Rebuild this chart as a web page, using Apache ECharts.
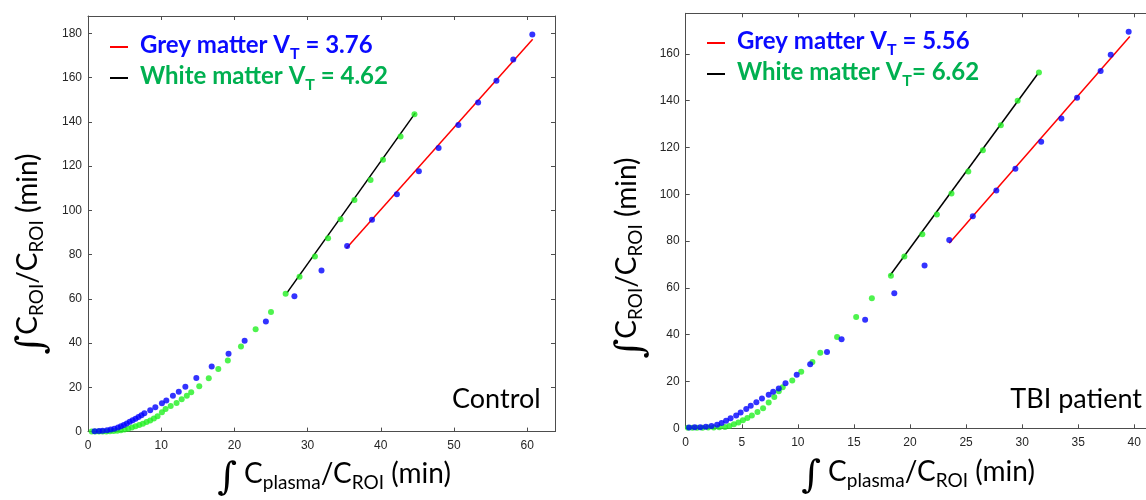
<!DOCTYPE html>
<html>
<head>
<meta charset="utf-8">
<script src="https://cdn.jsdelivr.net/npm/echarts@6/dist/echarts.min.js"></script>
<style>
  html, body { margin: 0; padding: 0; background: #fff; }
  #chart { width: 1146px; height: 500px; }
</style>
</head>
<body>
<div id="chart"></div>
<script>
// Control: grey matter (blue) and white matter (green) points
var ctrlGreyX = [0.9,1.5,2.0,2.6,3.1,3.6,4.1,4.5,4.9,5.3,5.7,6.1,6.5,6.9,7.3,7.7,8.5,9.2,10.1,10.7,11.6,12.4,13.3,14.8,16.9,19.2,21.4,24.3,28.2,31.9,35.4,38.8,42.2,45.2,47.9,50.6,53.3,55.8,58.1,60.7];
var ctrlGreyY = [0.2,0.3,0.4,0.6,0.9,1.3,1.8,2.4,3.0,3.7,4.4,5.1,5.8,6.6,7.4,8.3,9.6,11.0,12.8,14.0,16.2,18.0,20.3,24.2,29.4,35.2,41.1,49.7,61.2,72.8,83.9,95.7,107.3,117.7,128.1,138.6,148.7,158.5,168.1,179.4];
var ctrlWhiteX = [0.5,1.0,1.5,2.0,2.5,3.0,3.5,4.0,4.5,5.0,5.5,6.0,6.5,7.0,7.5,8.0,8.5,9.0,9.5,10.1,10.6,11.3,12.1,12.8,13.5,14.1,15.2,16.5,17.8,19.1,20.9,22.9,25.0,27.0,28.9,31.0,32.8,34.5,36.4,38.6,40.3,42.7,44.6];
var ctrlWhiteY = [0,0,0,0.1,0.1,0.2,0.3,0.4,0.6,0.9,1.3,1.8,2.4,3.0,3.6,4.3,5.0,5.9,6.9,8.7,10.2,11.6,12.9,14.6,16.2,17.8,20.5,24.1,28.3,32.1,38.4,46.2,54.1,62.3,70.0,79.1,87.4,96.0,104.7,113.7,122.8,133.3,143.4];
// Control: fitted lines (end points)
var ctrlGreyFitX = [35.3, 60.75];
var ctrlGreyFitY = [82.9, 177.3];
var ctrlWhiteFitX = [27.2, 44.7];
var ctrlWhiteFitY = [62.8, 143.9];

// TBI patient
var tbiGreyX = [0.3,0.8,1.3,1.8,2.3,2.8,3.2,3.6,4.0,4.5,4.9,5.4,5.8,6.3,6.8,7.4,7.8,8.3,8.9,9.9,11.1,12.6,13.9,16.0,18.6,21.3,23.5,25.6,27.7,29.4,31.7,33.5,34.9,37.0,37.9,39.5];
var tbiGreyY = [0.3,0.4,0.5,0.7,1.0,1.5,2.3,3.2,4.3,5.5,6.8,8.2,9.6,11.1,12.7,14.3,15.6,17.0,19.2,22.9,27.4,32.6,38.0,46.4,57.7,69.5,80.5,90.6,101.6,110.9,122.4,132.4,141.2,152.6,159.6,169.4];
var tbiWhiteX = [0.2,0.6,1.0,1.5,2.0,2.5,3.0,3.5,3.9,4.3,4.7,5.1,5.5,5.9,6.4,6.9,7.4,7.9,8.3,8.65,9.5,10.3,11.3,12.0,13.5,15.2,16.6,18.3,19.5,21.1,22.4,23.7,25.2,26.5,28.1,29.6,31.5];
var tbiWhiteY = [0.2,0.2,0.2,0.2,0.3,0.3,0.4,0.6,1.0,1.7,2.5,3.4,4.4,5.5,7.0,8.6,11.0,13.4,15.8,17.5,20.4,24.2,28.3,32.3,39.0,47.6,55.6,65.2,73.4,82.9,91.3,100.3,109.7,118.8,129.5,139.9,152.0];
var tbiGreyFitX = [23.5, 39.6];
var tbiGreyFitY = [79.1, 167.4];
var tbiWhiteFitX = [18.2, 31.4];
var tbiWhiteFitY = [65.2, 151.5];

// axis ticks
var ctrlXTicks = {max: 63.8, interval: 10};
var ctrlYTicks = {max: 187.8, interval: 20};
var tbiXTicks = {max: 42, interval: 5};
var tbiYTicks = {max: 177.3, interval: 20};

function pairs(xs, ys) {
  return xs.map(function (x, i) { return [x, ys[i]]; });
}

var BLUE = '#0000ff';
var GREEN = '#22f022';
var AXIS = '#4d4d4d';

function axis(kind, pos, gridIndex, ticks, labels) {
  return {
    type: 'value',
    gridIndex: gridIndex,
    position: pos,
    min: 0,
    max: ticks.max,
    interval: ticks.interval,
    axisLine: {show: true, onZero: false, lineStyle: {color: AXIS, width: 1}},
    axisTick: {show: true, inside: true, length: 4, lineStyle: {color: AXIS}},
    axisLabel: {
      show: labels,
      showMaxLabel: false,
      margin: kind === 'x' ? 8 : 6,
      color: '#262626',
      fontFamily: 'Liberation Sans',
      fontSize: 12
    },
    splitLine: {show: false}
  };
}

// axis titles: main text, integral sign and subscripts, all top aligned
var nameRich = {
  i: {fontFamily: 'DejaVu Serif', fontSize: 38, lineHeight: 36, verticalAlign: 'top', color: '#000'},
  m: {fontFamily: 'Lato', fontSize: 28, lineHeight: 36, verticalAlign: 'top', color: '#000'},
  s: {fontFamily: 'Lato', fontSize: 19, lineHeight: 20, padding: [13, 0, 0, 0], verticalAlign: 'top', color: '#000'}
};
var yName = '{i|∫}{m|C}{s|ROI}{m|/C}{s|ROI}{m| (min)}';
var xName = '{i|∫}{m| C}{s|plasma}{m|/C}{s|ROI}{m| (min)}';

var legendRich = {
  b: {color: '#0a0aff', fontFamily: 'Lato', fontWeight: 'bold', fontSize: 24, lineHeight: 28, verticalAlign: 'top'},
  bs: {color: '#0a0aff', fontFamily: 'Lato', fontWeight: 'bold', fontSize: 16, lineHeight: 16, padding: [13, 0, 0, 0], verticalAlign: 'top'},
  g: {color: '#00b050', fontFamily: 'Lato', fontWeight: 'bold', fontSize: 24, lineHeight: 28, verticalAlign: 'top'},
  gs: {color: '#00b050', fontFamily: 'Lato', fontWeight: 'bold', fontSize: 16, lineHeight: 16, padding: [13, 0, 0, 0], verticalAlign: 'top'}
};
var legendText = {
  ctrlGreyFit: '{b|Grey matter V}{bs|T}{b| = 3.76}',
  ctrlWhiteFit: '{g|White matter V}{gs|T}{g| = 4.62}',
  tbiGreyFit: '{b|Grey matter V}{bs|T}{b| = 5.56}',
  tbiWhiteFit: '{g|White matter V}{gs|T}{g|= 6.62}'
};

function legend(left, top, names) {
  return {
    left: left,
    top: top,
    orient: 'vertical',
    icon: 'rect',
    itemWidth: 18,
    itemHeight: 2,
    itemGap: 2,
    selectedMode: false,
    data: names,
    formatter: function (name) { return legendText[name]; },
    textStyle: {padding: [0, 0, 0, 7], rich: legendRich}
  };
}

function fit(name, xs, ys, color, idx) {
  return {
    name: name, type: 'line', xAxisIndex: idx, yAxisIndex: idx,
    data: pairs(xs, ys), showSymbol: false, symbol: 'none',
    color: color, lineStyle: {color: color, width: 1.5}, z: 2, silent: true
  };
}

function dots(xs, ys, color, idx) {
  return {
    type: 'scatter', xAxisIndex: idx, yAxisIndex: idx,
    data: pairs(xs, ys), symbolSize: 6,
    itemStyle: {color: color}, z: 3, silent: true
  };
}

function label(x, y, rot, text) {
  return {
    type: 'text', x: x, y: y, rotation: rot,
    style: {text: text, rich: nameRich, align: 'center', verticalAlign: 'middle'}
  };
}

var chart = echarts.init(document.getElementById('chart'));
chart.setOption({
  backgroundColor: '#ffffff',
  animation: false,
  grid: [
    {left: 88, top: 16, width: 467, height: 415.6, containLabel: false, outerBoundsMode: 'none'},
    {left: 685.7, top: 13.3, width: 471, height: 415, containLabel: false, outerBoundsMode: 'none'}
  ],
  xAxis: [
    axis('x', 'bottom', 0, ctrlXTicks, true),
    axis('x', 'bottom', 1, tbiXTicks, true),
    axis('x', 'top', 0, ctrlXTicks, false),
    axis('x', 'top', 1, tbiXTicks, false)
  ],
  yAxis: [
    axis('y', 'left', 0, ctrlYTicks, true),
    axis('y', 'left', 1, tbiYTicks, true),
    axis('y', 'right', 0, ctrlYTicks, false),
    axis('y', 'right', 1, tbiYTicks, false)
  ],
  legend: [
    legend(105, 28, ['ctrlGreyFit', 'ctrlWhiteFit']),
    legend(702, 24, ['tbiGreyFit', 'tbiWhiteFit'])
  ],
  series: [
    fit('ctrlGreyFit', ctrlGreyFitX, ctrlGreyFitY, '#ff0000', 0),
    fit('ctrlWhiteFit', ctrlWhiteFitX, ctrlWhiteFitY, '#000000', 0),
    dots(ctrlWhiteX, ctrlWhiteY, GREEN, 0),
    dots(ctrlGreyX, ctrlGreyY, BLUE, 0),
    fit('tbiGreyFit', tbiGreyFitX, tbiGreyFitY, '#ff0000', 1),
    fit('tbiWhiteFit', tbiWhiteFitX, tbiWhiteFitY, '#000000', 1),
    dots(tbiWhiteX, tbiWhiteY, GREEN, 1),
    dots(tbiGreyX, tbiGreyY, BLUE, 1)
  ],
  graphic: [
    label(32, 254, Math.PI / 2, yName),
    label(334, 478, 0, xName),
    label(631, 258, Math.PI / 2, yName),
    label(918, 476, 0, xName),
    {type: 'text', x: 452, y: 399, style: {text: 'Control', fontFamily: 'Lato', fontSize: 27, fill: '#000', align: 'left', verticalAlign: 'middle'}},
    {type: 'text', x: 1142, y: 399, style: {text: 'TBI patient', fontFamily: 'Lato', fontSize: 27, fill: '#000', align: 'right', verticalAlign: 'middle'}}
  ]
});
</script>
</body>
</html>
